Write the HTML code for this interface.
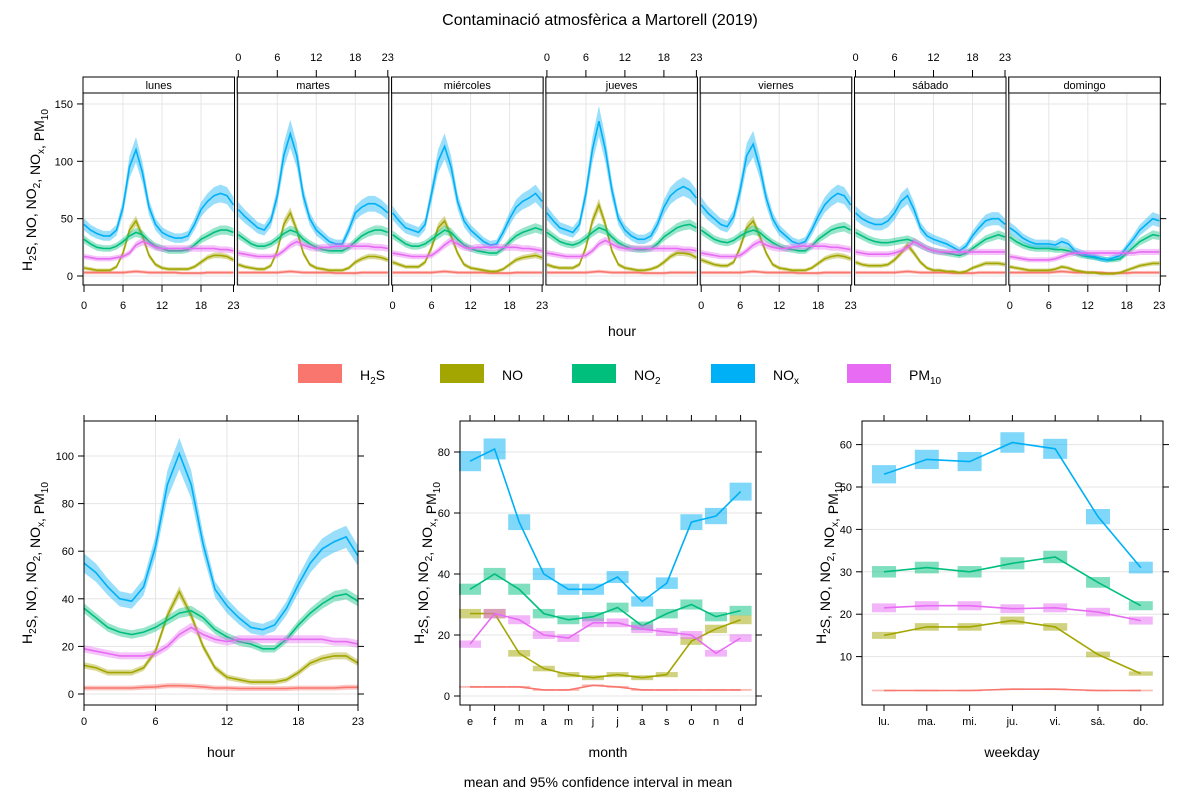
<!DOCTYPE html>
<html><head><meta charset="utf-8">
<style>
body{margin:0;background:#fff;}
svg{display:block;font-family:"Liberation Sans",sans-serif;}
</style></head>
<body>
<svg id="c" width="1200" height="800" viewBox="0 0 1200 800"></svg>
<script>
const seriesNames=["H2S","NO","NO2","NOx","PM10"];
const colors=["#F8766D","#A3A500","#00BF7D","#00B0F6","#E76BF3"];
const dayNames=["lunes","martes","miércoles","jueves","viernes","sábado","domingo"];
const monthLabels=["e","f","m","a","m","j","j","a","s","o","n","d"];
const weekdayLabels=["lu.","ma.","mi.","ju.","vi.","sá.","do."];
// day-hour values
const dhNOx=[
[45,40,37,35,35,40,60,95,110,90,60,45,38,35,33,33,35,45,58,65,70,72,70,62],
[58,52,47,42,40,48,70,105,124,105,70,50,40,35,30,28,28,40,55,60,63,63,60,55],
[55,48,42,40,38,45,72,100,113,95,65,48,40,35,30,27,28,38,50,60,65,68,72,65],
[55,48,42,40,38,45,72,110,135,110,75,50,40,35,32,32,35,45,60,70,75,78,75,68],
[62,55,50,45,43,52,75,105,115,95,68,50,40,35,30,28,30,40,52,62,68,72,70,62],
[55,50,47,45,45,48,55,65,70,58,42,35,32,30,28,25,22,26,35,42,48,50,50,45],
[42,38,33,30,28,28,28,27,30,28,22,20,18,17,15,14,16,18,25,32,40,45,50,48]];
const dhNO2=[
[32,28,25,24,24,26,30,35,38,36,30,26,24,22,22,22,23,27,32,35,38,40,40,38],
[36,32,28,26,26,28,32,37,40,38,32,28,25,23,22,22,22,25,30,35,38,40,40,38],
[36,32,28,26,26,28,32,36,40,38,32,27,24,22,21,20,20,24,30,35,38,40,42,40],
[38,34,30,28,27,29,33,38,42,40,34,29,26,24,23,23,24,28,34,38,42,44,45,42],
[40,36,32,30,29,31,35,38,40,38,33,29,26,24,23,22,22,26,32,36,40,42,43,40],
[38,35,32,30,29,29,30,31,32,30,27,24,22,21,20,19,18,20,24,28,32,34,36,34],
[34,30,27,25,24,24,24,23,23,22,20,18,17,16,15,14,14,15,20,25,30,33,36,35]];
const dhNO=[
[7,6,5,5,5,8,20,40,48,35,18,10,7,6,6,6,6,8,12,16,18,18,17,14],
[10,8,7,6,6,9,22,45,55,40,20,10,7,6,5,5,5,7,12,15,17,17,16,14],
[12,10,8,8,8,12,25,42,48,35,20,10,7,6,5,4,4,6,10,14,16,17,18,16],
[10,8,7,7,7,10,25,48,62,45,22,10,7,6,5,5,6,8,12,17,20,20,19,16],
[14,12,10,9,9,12,25,42,48,35,20,10,7,6,5,5,5,7,11,15,17,18,17,15],
[12,10,9,9,9,10,14,20,27,20,12,7,5,5,4,4,3,4,7,9,11,11,11,10],
[8,7,6,5,5,5,5,6,8,7,5,4,3,3,2,2,2,3,5,7,9,10,11,11]];
const dhPM10=[
[17,16,15,15,15,16,17,20,27,30,28,25,24,24,24,24,24,24,24,24,24,23,23,22],
[20,19,18,17,17,17,18,22,27,30,27,25,24,25,25,26,26,26,26,26,26,25,25,24],
[20,19,18,17,17,17,18,22,27,31,28,25,24,25,25,25,25,25,25,25,24,24,23,22],
[20,19,18,17,17,17,18,22,28,31,28,25,24,24,24,24,24,24,24,24,24,23,23,22],
[20,19,18,17,17,17,18,22,27,30,27,25,24,24,25,26,26,26,26,26,25,25,24,23],
[21,20,19,19,19,19,20,22,25,30,27,24,22,21,21,21,21,21,21,21,21,21,21,21],
[17,16,15,14,14,14,14,15,17,19,20,20,20,20,20,20,20,20,20,20,21,21,21,21]];
const dhH2S=[3,3,3,3,3,3,3,3.5,4,3.5,3,3,3,3,3,2.5,2.5,2.5,2.5,3,3,3,3,3];
// hourly
const hNOx=[55,51,45,40,39,45,62,88,101,88,63,44,37,32,28,27,29,36,46,55,61,64,66,58];
const hNO2=[36,32,28,26,25,26,28,31,34,35,32,27,24,22,21,19,19,23,29,34,38,41,42,39];
const hNO=[12,11,9,9,9,11,18,33,43,33,20,11,7,6,5,5,5,6,9,13,15,16,16,13];
const hPM10=[19,18,17,16,16,16,17,20,25,28,25,23,22,23,23,23,23,23,23,23,23,22,22,21];
const hH2S=[2.5,2.5,2.5,2.5,2.5,2.8,3,3.5,3.5,3.3,3,2.5,2.5,2.3,2.3,2.3,2.3,2.3,2.5,2.5,2.5,2.5,2.8,2.8];
// monthly
const mNOx=[77,81,57,40,35,35,39,31,37,57,59,67];
const mNO2=[35,40,35,27,25,26,29,23,27,30,26,28];
const mNO=[27,27,14,9,7,6,7,6,7,18,22,25];
const mPM10=[17,27,25,20,19,24,24,22,21,20,14,19];
const mH2S=[3,3,3,2,2,3.5,3,2,2,2,2,2];
// weekday
const wNOx=[53,56.5,56,60.5,59,43,31];
const wNO2=[30,31,30,32,33.5,27.5,22];
const wNO=[15,17,17,18.5,17,10.5,6];
const wPM10=[21.5,22,22,21.3,21.5,20.5,18.5];
const wH2S=[2,2,2,2.3,2.3,2,2];

const NS="http://www.w3.org/2000/svg";
const svg=document.getElementById('c');
function el(tag,attrs,parent,name,inter){const e=document.createElementNS(NS,tag);for(const k in attrs)e.setAttribute(k,attrs[k]);


(parent||svg).appendChild(e);return e;}
function txt(x,y,s,size,anchor,parent,name){const t=el('text',{x:x,y:y,'font-size':size,'text-anchor':anchor||'middle',fill:'#000'},parent,name);t.textContent=s;return t;}
function ylab(x,y,size,name){
 const t=el('text',{x:0,y:0,'font-size':size,'text-anchor':'middle',transform:`translate(${x},${y}) rotate(-90)`},svg,name);
 const parts=[["H",0],["2",1],["S, NO, NO",0],["2",1],[", NO",0],["x",1],[", PM",0],["10",1]];
 parts.forEach(p=>{const s=document.createElementNS(NS,'tspan');s.textContent=p[0];if(p[1]){s.setAttribute('font-size',size*0.72);s.setAttribute('dy',4);} t.appendChild(s); if(p[1]){const r=document.createElementNS(NS,'tspan');r.setAttribute('dy',-4);r.textContent='';t.appendChild(r);}});
}
function line(x1,y1,x2,y2,st,w,name){return el('line',{x1,y1,x2,y2,stroke:st,'stroke-width':w||1},svg,name);}
function poly(xs,ys,color,name){let d='';xs.forEach((x,i)=>d+=(i?'L':'M')+x.toFixed(1)+','+ys[i].toFixed(1));el('path',{d,fill:'none',stroke:color,'stroke-width':1.6},svg,name);}
function band(xs,lo,hi,color,name){let d='';xs.forEach((x,i)=>d+=(i?'L':'M')+x.toFixed(1)+','+hi[i].toFixed(1));for(let i=xs.length-1;i>=0;i--)d+='L'+xs[i].toFixed(1)+','+lo[i].toFixed(1);el('path',{d:d+'Z',fill:color,'fill-opacity':0.4,stroke:'none'},svg,name);}
function ci(v,k){return v*k+1.2;}

txt(600,25,"Contaminació atmosfèrica a Martorell (2019)",16,'middle',svg,'chart-title');

// ---------- top panels ----------
const topData=[dhH2S,dhNO,dhNO2,dhNOx,dhPM10];
const tY=v=>276-v*1.147;
for(let d=0;d<7;d++){
 const x0=84+d*154.3, px=h=>x0+h*6.5;
 const L=x0-1,R=x0+150.5;
 [0,6,12,18].forEach(h=>line(px(h),93,px(h),285,'#e5e5e5',1,'grid-v'));
 [0,50,100,150].forEach(v=>line(L,tY(v),R,tY(v),'#e5e5e5',1,'grid-h'));
 const hrs=[...Array(24).keys()];
 for(let s=0;s<5;s++){
  const vals=s===0?topData[0]:topData[s][d];
  const k=s===3?0.09:0.07;
  band(hrs.map(px),vals.map(v=>tY(v-ci(v,k))),vals.map(v=>tY(v+ci(v,k))),colors[s],'ci-band-'+seriesNames[s]);
  poly(hrs.map(px),vals.map(tY),colors[s],'line-'+dayNames[d]+'-'+seriesNames[s]);
 }
 el('rect',{x:L,y:77,width:R-L,height:208,fill:'none',stroke:'#000','stroke-width':1},svg,'panel-frame');
 el('rect',{x:L,y:77,width:R-L,height:16,fill:'#fff',stroke:'#000','stroke-width':1},svg,'strip-'+dayNames[d]);
 txt((L+R)/2,89,dayNames[d],11,'middle',svg,'strip-label');
 const ticksTop=d%2===1;
 [0,6,12,18,23].forEach(h=>{
  if(ticksTop){line(px(h),70,px(h),77,'#000',1,'tick');txt(px(h),61,String(h),11,'middle',svg,'x-tick-label');}
  else{line(px(h),285,px(h),292,'#000',1,'tick');txt(px(h),309,String(h),11,'middle',svg,'x-tick-label');}
 });
 if(d===0)[0,50,100,150].forEach(v=>{line(L-6,tY(v),L,tY(v),'#000',1,'tick');txt(L-10,tY(v)+4,String(v),11,'end',svg,'y-tick-label');});
 if(d===6)[0,50,100,150].forEach(v=>line(R,tY(v),R+6,tY(v),'#000',1,'tick'));
}
txt(622,336,"hour",14,'middle',svg,'x-axis-title');
ylab(32,190,14,'y-axis-title');

// ---------- legend ----------
const legX=[298,440,572,711,847];
const legLbl=[["H","2","S"],["NO","",""],["NO","2",""],["NO","x",""],["PM","10",""]];
for(let s=0;s<5;s++){
 el('rect',{x:legX[s],y:364,width:44,height:19,fill:colors[s],'fill-opacity':1},svg,'legend-swatch-'+seriesNames[s]);
 const t=el('text',{x:legX[s]+62,y:380,'font-size':14},svg,'legend-label-'+seriesNames[s]);
 const a=document.createElementNS(NS,'tspan');a.textContent=legLbl[s][0];t.appendChild(a);
 if(legLbl[s][1]){const b=document.createElementNS(NS,'tspan');b.setAttribute('font-size',10);b.setAttribute('dy',4);b.textContent=legLbl[s][1];t.appendChild(b);
  if(legLbl[s][2]){const c=document.createElementNS(NS,'tspan');c.setAttribute('dy',-4);c.textContent=legLbl[s][2];t.appendChild(c);}}
}

function framePanel(L,R,T,B,xt,xlabels,yt,yfun,name){
 xt.forEach(x=>line(x,T,x,B,'#e5e5e5',1,'grid-v'));
 yt.forEach(v=>line(L,yfun(v),R,yfun(v),'#e5e5e5',1,'grid-h'));
}
function frameAxes(L,R,T,B,xt,xlabels,yt,yfun,name){
 el('rect',{x:L,y:T,width:R-L,height:B-T,fill:'none',stroke:'#000'},svg,name+'-frame');
 xt.forEach((x,i)=>{line(x,B,x,B+6,'#000',1,'tick');line(x,T-6,x,T,'#000',1,'tick');txt(x,B+20,xlabels[i],11,'middle',svg,'x-tick-label');});
 yt.forEach(v=>{line(L-6,yfun(v),L,yfun(v),'#000',1,'tick');line(R,yfun(v),R+6,yfun(v),'#000',1,'tick');txt(L-10,yfun(v)+4,String(v),11,'end',svg,'y-tick-label');});
}

// ---------- hour panel ----------
{
 const L=84,R=358,T=421,B=705;
 const px=h=>84+h*(274/23), py=v=>694-v*2.38;
 const hx=[0,6,12,18,23];
 framePanel(L,R,T,B,hx.map(px),[],[0,20,40,60,80,100],py);
 const hd=[hH2S,hNO,hNO2,hNOx,hPM10];const hrs=[...Array(24).keys()];
 for(let s=0;s<5;s++){const k=s===3?0.07:0.04;
  band(hrs.map(px),hd[s].map(v=>py(v-ci(v,k)*0.8)),hd[s].map(v=>py(v+ci(v,k)*0.8)),colors[s],'hour-ci-'+seriesNames[s]);
  poly(hrs.map(px),hd[s].map(py),colors[s],'hour-line-'+seriesNames[s]);}
 frameAxes(L,R,T,B,hx.map(px),hx.map(String),[0,20,40,60,80,100],py,'hour-panel');
 txt(221,757,"hour",14,'middle',svg,'hour-x-title');
 ylab(32,563,14,'hour-y-title');
}
function hw(v,k,b){return v*k+b;}
// ---------- month panel ----------
{
 const L=460,R=756,T=421,B=705;
 const px=i=>470+i*24.6, py=v=>696-v*3.05;
 const mi=[...Array(12).keys()];
 framePanel(L,R,T,B,[],[],[0,20,40,60,80],py);
 const md=[mH2S,mNO,mNO2,mNOx,mPM10];
 for(let s=0;s<5;s++){
  mi.forEach(i=>{const v=md[s][i],h=s===0?0.3:hw(v,0.035,0.6);el('rect',{x:px(i)-11,y:py(v+h),width:22,height:py(v-h)-py(v+h),fill:colors[s],'fill-opacity':0.5},svg,'month-ci-'+seriesNames[s]);});
  poly(mi.map(px),md[s].map(py),colors[s],'month-line-'+seriesNames[s]);}
 frameAxes(L,R,T,B,mi.map(px),monthLabels,[0,20,40,60,80],py,'month-panel');
 txt(608,757,"month",14,'middle',svg,'month-x-title');
 ylab(424,563,14,'month-y-title');
}
// ---------- weekday panel ----------
{
 const L=862,R=1163,T=421,B=705;
 const px=i=>884+i*42.8, py=v=>699-v*4.24;
 const wi=[...Array(7).keys()];
 framePanel(L,R,T,B,[],[],[10,20,30,40,50,60],py);
 const wd=[wH2S,wNO,wNO2,wNOx,wPM10];
 for(let s=0;s<5;s++){
  wi.forEach(i=>{const v=wd[s][i],h=s===0?0.2:hw(v,0.035,0.3);el('rect',{x:px(i)-12,y:py(v+h),width:24,height:py(v-h)-py(v+h),fill:colors[s],'fill-opacity':0.5},svg,'weekday-ci-'+seriesNames[s]);});
  poly(wi.map(px),wd[s].map(py),colors[s],'weekday-line-'+seriesNames[s]);}
 frameAxes(L,R,T,B,wi.map(px),weekdayLabels,[10,20,30,40,50,60],py,'weekday-panel');
 txt(1012,757,"weekday",14,'middle',svg,'weekday-x-title');
 ylab(826,563,14,'weekday-y-title');
}
txt(598,787,"mean and 95% confidence interval in mean",14,'middle',svg,'footer-note');
</script>
</body></html>
